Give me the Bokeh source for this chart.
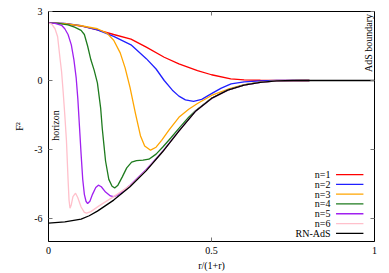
from bokeh.plotting import figure
from bokeh.models import Range1d, LinearAxis, FixedTicker
from bokeh.embed import file_html
from bokeh.resources import INLINE
from bokeh.core.properties import value
import math

# ---- data ----
x_n1 = [0, 0.05, 0.1, 0.15, 0.2, 0.253, 0.3, 0.355, 0.4, 0.457, 0.5, 0.559, 0.6, 0.65, 0.7, 0.8]
y_n1 = [2.5, 2.47, 2.37, 2.2, 2.0, 1.8, 1.45, 1.01, 0.72, 0.43, 0.25, 0.07, 0.03, 0.01, 0.0, 0.0]

x_n2 = [0, 0.05, 0.1, 0.15, 0.2, 0.253, 0.3, 0.33, 0.355, 0.38, 0.4, 0.42, 0.445, 0.47, 0.5, 0.53, 0.56, 0.6, 0.65, 0.7, 0.8]
y_n2 = [2.5, 2.48, 2.38, 2.2, 1.92, 1.55, 0.95, 0.5, 0.0, -0.42, -0.68, -0.84, -0.91, -0.82, -0.57, -0.33, -0.15, -0.06, -0.02, 0.0, 0.0]

x_n3 = [0, 0.05, 0.1, 0.15, 0.18, 0.2, 0.22, 0.235, 0.25, 0.267, 0.282, 0.295, 0.313, 0.33, 0.347, 0.37, 0.4, 0.43, 0.457, 0.5, 0.55, 0.6, 0.65, 0.7, 0.8]
y_n3 = [2.5, 2.47, 2.38, 2.25, 2.05, 1.75, 1.2, 0.55, -0.3, -1.45, -2.4, -2.85, -3.03, -2.9, -2.6, -2.15, -1.6, -1.25, -1.0, -0.65, -0.38, -0.18, -0.07, -0.02, 0.0]

x_n4 = [0, 0.03, 0.06, 0.08, 0.1, 0.11, 0.12, 0.13, 0.14, 0.15, 0.16, 0.165, 0.17, 0.175, 0.185, 0.195, 0.203, 0.213, 0.226, 0.24, 0.255, 0.27, 0.29, 0.308, 0.33, 0.35, 0.375, 0.4, 0.43, 0.45, 0.5, 0.55, 0.6, 0.65, 0.7, 0.8]
y_n4 = [2.5, 2.48, 2.42, 2.32, 2.18, 2.0, 1.5, 0.9, 0.45, -0.1, -1.2, -2.1, -2.8, -3.5, -4.3, -4.6, -4.67, -4.55, -4.2, -3.8, -3.55, -3.48, -3.46, -3.42, -3.2, -2.9, -2.5, -2.08, -1.6, -1.33, -0.77, -0.41, -0.19, -0.07, -0.02, 0.0]

x_n5 = [0, 0.02, 0.04, 0.05, 0.06, 0.07, 0.078, 0.085, 0.09, 0.095, 0.1, 0.105, 0.11, 0.115, 0.12, 0.127, 0.135, 0.145, 0.153, 0.162, 0.175, 0.19, 0.2, 0.21, 0.225, 0.25, 0.3, 0.35, 0.4, 0.45, 0.5, 0.55, 0.6, 0.65, 0.7, 0.8]
y_n5 = [2.5, 2.48, 2.4, 2.25, 2.0, 1.55, 0.9, 0.1, -0.8, -2.0, -3.2, -4.3, -4.95, -5.25, -5.35, -5.25, -4.95, -4.65, -4.55, -4.62, -4.85, -5.02, -5.05, -5.0, -4.85, -4.55, -3.87, -3.08, -2.19, -1.35, -0.78, -0.42, -0.2, -0.08, -0.02, 0.0]

x_n6 = [0, 0.01, 0.02, 0.028, 0.035, 0.04, 0.045, 0.05, 0.055, 0.06, 0.063, 0.066, 0.07, 0.075, 0.083, 0.09, 0.1, 0.11, 0.117, 0.13, 0.155, 0.2, 0.25, 0.3, 0.35, 0.4, 0.45, 0.5, 0.55, 0.6, 0.65, 0.7, 0.8]
y_n6 = [2.5, 2.45, 2.25, 1.9, 1.0, 0.4, -0.5, -1.5, -2.6, -4.3, -5.2, -5.55, -5.4, -5.05, -4.9, -5.1, -5.5, -5.73, -5.77, -5.7, -5.45, -5.05, -4.57, -3.9, -3.1, -2.2, -1.35, -0.78, -0.42, -0.2, -0.08, -0.02, 0.0]

x_rn = [0, 0.05, 0.1, 0.125, 0.15, 0.2, 0.25, 0.3, 0.35, 0.4, 0.45, 0.5, 0.55, 0.6, 0.65, 0.7, 0.75, 1.0]
y_rn = [-6.2, -6.15, -6.03, -5.88, -5.68, -5.2, -4.62, -3.92, -3.1, -2.2, -1.35, -0.78, -0.42, -0.2, -0.08, -0.02, 0.0, 0.0]

labels = ["n=1", "n=2", "n=3", "n=4", "n=5", "n=6", "RN-AdS"]
colors = ["#FF0000", "#2020FF", "#FFA500", "#1E7B1E", "#A020F0", "#FFC0CB", "#000000"]
xs = [x_n1, x_n2, x_n3, x_n4, x_n5, x_n6, x_rn]
ys = [y_n1, y_n2, y_n3, y_n4, y_n5, y_n6, y_rn]

x_ticks = [0, 0.5, 1]
y_ticks = [3, 0, -3, -6]

FONT = "Liberation Serif"

p = figure(width=388, height=273, output_backend="svg", toolbar_location=None,
           x_range=Range1d(0, 1), y_range=Range1d(-7, 3),
           min_border_left=48, min_border_right=14, min_border_top=11, min_border_bottom=32)
p.xgrid.visible = False
p.ygrid.visible = False
p.outline_line_color = "black"
p.outline_line_width = 1
p.background_fill_color = "white"
p.border_fill_color = "white"

for ax in (p.xaxis[0], p.yaxis[0]):
    ax.major_tick_in = 4
    ax.major_tick_out = 0
    ax.minor_tick_in = 0
    ax.minor_tick_out = 0
    ax.major_tick_line_color = "#777777"
    ax.axis_line_color = "black"
    ax.major_label_text_font = FONT
    ax.major_label_text_font_size = "10px"
    ax.major_label_text_color = "black"
    ax.axis_label_text_font = FONT
    ax.axis_label_text_font_size = "10px"
    ax.axis_label_text_font_style = "normal"
    ax.axis_label_text_color = "black"

p.xaxis[0].ticker = FixedTicker(ticks=x_ticks)
p.xaxis[0].major_label_overrides = {0: "0", 0.5: "0.5", 1: "1"}
p.xaxis[0].axis_label = "r/(1+r)"
p.xaxis[0].major_label_standoff = 5
p.xaxis[0].axis_label_standoff = 3
p.yaxis[0].ticker = FixedTicker(ticks=y_ticks)
p.yaxis[0].major_label_overrides = {3: "3", 0: "0", -3: "-3", -6: "-6"}
p.yaxis[0].axis_label = "F²"
p.yaxis[0].major_label_standoff = 6
p.yaxis[0].axis_label_standoff = 6

for loc, ticks in (("right", y_ticks), ("above", x_ticks)):
    ax = LinearAxis(ticker=FixedTicker(ticks=ticks))
    ax.major_tick_in = 4
    ax.major_tick_out = 0
    ax.minor_tick_in = 0
    ax.minor_tick_out = 0
    ax.major_tick_line_color = "#777777"
    ax.axis_line_color = "black"
    ax.major_label_overrides = {t: "" for t in ticks}
    ax.major_label_standoff = 0
    p.add_layout(ax, loc)

for x, y, c in zip(xs, ys, colors):
    p.line(x, y, line_color=c, line_width=1.3)

# annotations
p.text(x=[0.021], y=[-1.96], text=["horizon"], angle=math.pi / 2,
       text_font=value(FONT), text_font_size="10px", text_align="center",
       text_baseline="middle", text_color="black")
p.text(x=[0.982], y=[1.63], text=["AdS boundary"], angle=math.pi / 2,
       text_font=value(FONT), text_font_size="10px", text_align="center",
       text_baseline="middle", text_color="black")

# manual legend (label left, line sample right)
leg_text_x = 0.865
leg_x0, leg_x1 = 0.882, 0.966
leg_y0, leg_dy = -4.09, 0.426
for i, (lab, c) in enumerate(zip(labels, colors)):
    yy = leg_y0 - i * leg_dy
    p.text(x=[leg_text_x], y=[yy], text=[lab], text_font=value(FONT),
           text_font_size="10px", text_align="right", text_baseline="middle",
           text_color="black")
    p.segment(x0=[leg_x0], y0=[yy], x1=[leg_x1], y1=[yy], line_color=c, line_width=1.3)

open("out.html", "w").write(file_html(p, INLINE))
